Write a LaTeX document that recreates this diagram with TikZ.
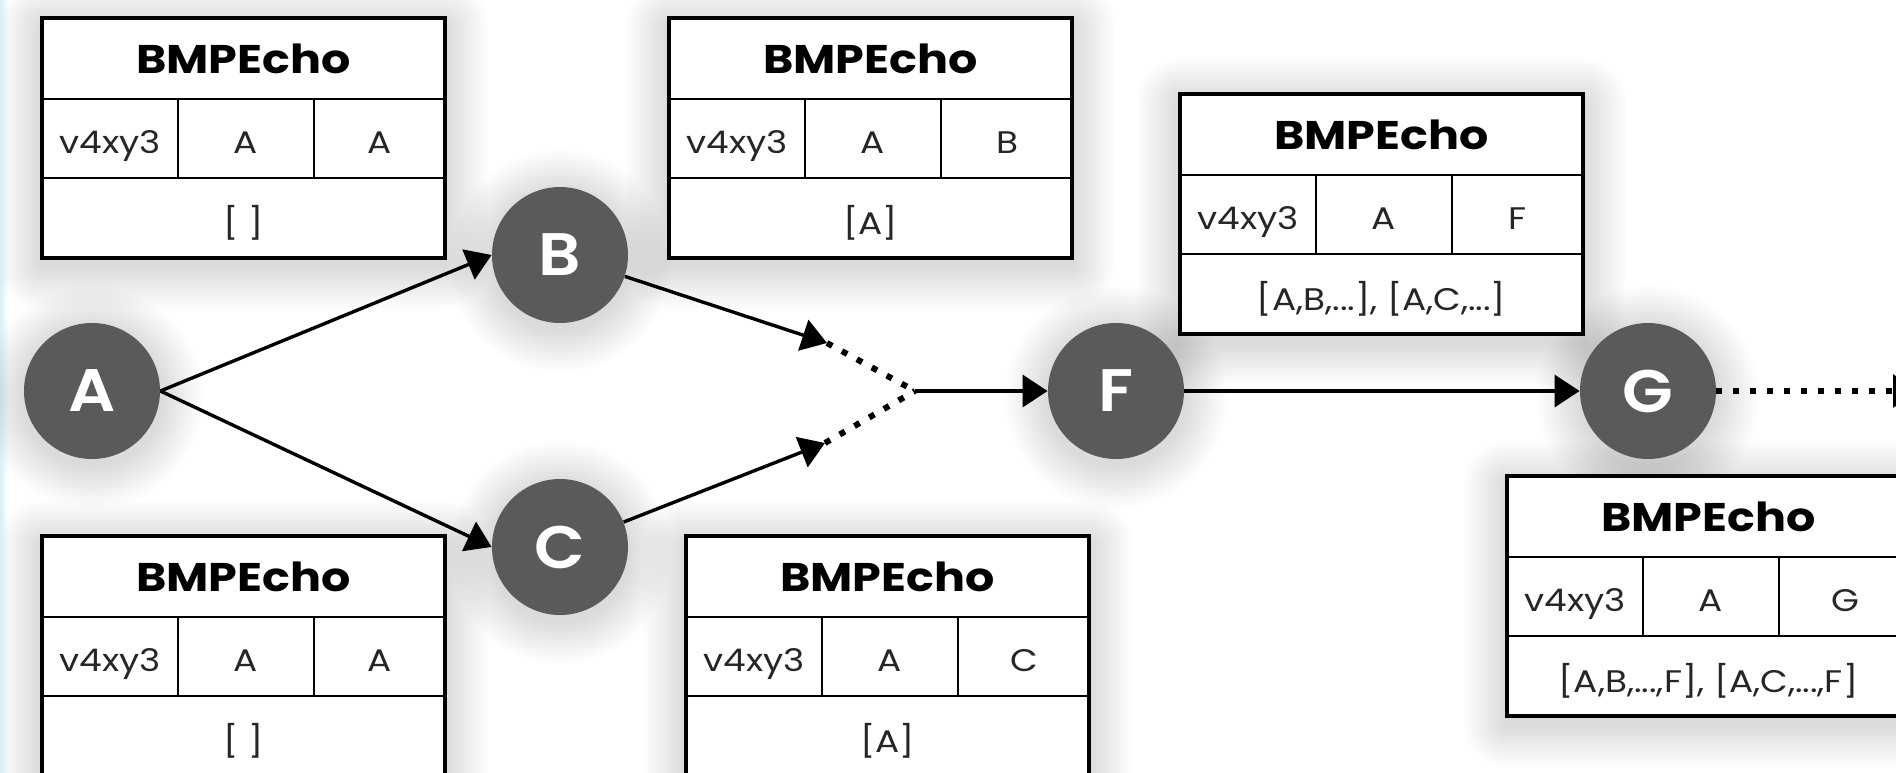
\documentclass[tikz,border=0pt]{standalone}
\usepackage{fontspec}
\setmainfont{Poppins}[FakeStretch=1.15]
\IfFontExistsTF{Poppins SemiBold}
  {\newfontfamily\circlefont{Poppins SemiBold}[FakeStretch=1.1]}
  {\newfontfamily\circlefont{Poppins}[FakeStretch=1.1]\let\oldcf\circlefont\def\circlefont{\oldcf\bfseries}}
\usetikzlibrary{arrows.meta}
\definecolor{nodegray}{HTML}{5A5A5A}
\definecolor{edgeblue}{HTML}{DCEEF6}
\tikzset{
  outerline/.style={line width=2pt},
  innerline/.style={line width=1pt},
  titletext/.style={font=\fontsize{20}{24}\selectfont\bfseries, inner sep=0pt, anchor=base},
  celltext/.style={font=\fontsize{15.6}{18}\selectfont, text=black!85, inner sep=0pt, anchor=base},
  glowlayer/.style={fill=black, fill opacity=0.0095},
  vertex/.style={circle, fill=nodegray, minimum size=68pt, inner sep=0pt, text=white,
    font=\fontsize{30}{36}\circlefont},
  arr/.style={line width=1.7pt, -{Triangle[length=12.5pt,width=16pt]}},
  dots/.style={line width=3pt, dash pattern=on 3pt off 5.5pt},
}
% soft shadow behind a box whose top-left corner is (#1,#2)
\newcommand\boxglow[2]{%
  \foreach \i in {1,...,18}{%
    \pgfmathsetmacro\rr{\i*1.2}%
    \fill[glowlayer, rounded corners=\rr pt] (#1-\i*2.4, #2-\i*2.4+8) rectangle (#1+403+\i*2.4, #2+240+\i*2.4+8);
  }}
% soft shadow behind a circle centred at (#1,#2)
\newcommand\circglow[2]{%
  \foreach \i in {1,...,18}{%
    \fill[glowlayer] (#1, #2+6) circle ({68+\i*2.4});
  }}
\newcommand\echobox[5]{%
  \begin{scope}[shift={(#2,#3)}]
    \fill[white] (0,0) rectangle (403,240);
    \draw[innerline] (0,81)--(403,81) (0,160)--(403,160) (136,81)--(136,160) (272,81)--(272,160);
    \draw[outerline] (0,0) rectangle (403,240);
    \node[titletext] (#1-t) at (201.5,55) {BMPEcho};
    \node[celltext] (#1-v) at (68,135) {v4xy3};
    \node[celltext] (#1-a) at (204,135) {A};
    \node[celltext] (#1-c) at (338,135) {#4};
    \node[celltext] (#1-p) at (201.5,216) {#5};
  \end{scope}}
\begin{document}
\begin{tikzpicture}[x=0.5pt,y=-0.5pt]
  \useasboundingbox (0,0) rectangle (1896,772);
  \clip (0,0) rectangle (1896,772);
  \fill[white] (0,0) rectangle (1896,772);
  \fill[left color=edgeblue, right color=white] (0,0) rectangle (8,772);

  % shadows
  \boxglow{42}{18}
  \boxglow{669}{18}
  \boxglow{1180}{94}
  \boxglow{1507}{476}
  \boxglow{42}{536}
  \boxglow{686}{536}
  \circglow{92}{391}
  \circglow{560}{255}
  \circglow{560}{547}
  \circglow{1116}{391}
  \circglow{1648}{391}

  \echobox{bA}{42}{18}{A}{[ ]}
  \echobox{bB}{669}{18}{B}{[A]}
  \echobox{bF}{1180}{94}{F}{[A,B,...], [A,C,...]}
  \echobox{bG}{1507}{476}{G}{[A,B,...,F], [A,C,...,F]}
  \echobox{bA2}{42}{536}{A}{[ ]}
  \echobox{bC}{686}{536}{C}{[A]}

  \node[vertex] (A) at (92,391) {A};
  \node[vertex] (B) at (560,255) {B};
  \node[vertex] (C) at (560,547) {C};
  \node[vertex] (F) at (1116,391) {F};
  \node[vertex] (G) at (1648,391) {G};

  \coordinate (tb) at (827,343);
  \coordinate (tc) at (825,443);
  \coordinate (J) at (915,391);
  \coordinate (E) at (1918,391);

  \draw[arr] (A.east) -- (B.west);
  \draw[arr] (A.east) -- (C.west);
  \draw[arr] (B) -- (tb);
  \draw[arr] (C) -- (tc);
  \draw[dots] (tb) -- (J);
  \draw[dots] (tc) -- (J);
  \draw[arr] (J) -- (F.west);
  \draw[arr] (F.east) -- (G.west);
  \draw[dots, -{Triangle[length=12.5pt,width=16pt]}] (G.east) -- (E);
\end{tikzpicture}
\end{document}
